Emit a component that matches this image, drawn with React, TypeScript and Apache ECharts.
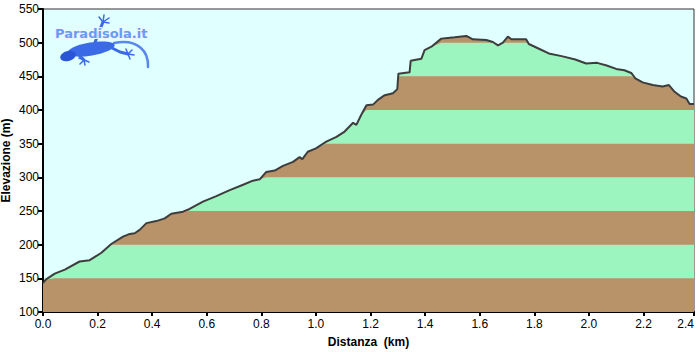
import React, { useEffect, useRef } from "react";
import * as echarts from "echarts";

// distance (km) and elevation (m)
const distanceKm = [
  0, 0.01, 0.043, 0.08, 0.134, 0.171, 0.214, 0.25, 0.293, 0.318, 0.336, 0.354, 0.379, 0.415, 0.446, 0.47,
  0.513, 0.537, 0.586, 0.635, 0.684, 0.733, 0.769, 0.794, 0.818, 0.849, 0.879, 0.916, 0.94, 0.95, 0.97,
  1.0, 1.038, 1.075, 1.105, 1.136, 1.148, 1.166, 1.185, 1.209, 1.227, 1.252, 1.282, 1.298, 1.302, 1.343,
  1.347, 1.386, 1.398, 1.423, 1.459, 1.483, 1.508, 1.551, 1.575, 1.624, 1.648, 1.667, 1.685, 1.703, 1.716,
  1.746, 1.77, 1.78, 1.817, 1.853, 1.9, 1.95, 1.99, 2.03, 2.065, 2.1, 2.13, 2.155, 2.17, 2.197, 2.234,
  2.27, 2.293, 2.314, 2.337, 2.357, 2.369, 2.385,
];
const elevationM = [
  143, 148, 157, 163, 175, 177, 188, 201, 212, 216, 217, 222, 232, 235, 239, 246,
  249, 253, 264, 272, 281, 289, 295, 297, 308, 310, 317, 323, 330, 327, 338,
  343, 353, 360, 368, 381, 378, 393, 407, 408, 415, 422, 425, 431, 454, 456,
  473, 476, 489, 494, 506, 507, 508, 510, 505, 504, 501, 496, 500, 509, 505,
  505, 505, 498, 491, 484, 480, 475, 469, 470, 466, 461, 459, 455, 447, 441, 437,
  435, 437, 427, 420, 417, 409, 409,
];
// elevation bands (upper bound of each 50 m band)
const bandTops = [150, 200, 250, 300, 350, 400, 450, 500, 550];
const yTicks = [100, 150, 200, 250, 300, 350, 400, 450, 500, 550];

const BROWN = "#b8936a";
const GREEN = "#9cf4be";
const LIZARD = "#3a6ae6";
const LIZARD_DARK = "#2a55d6";

export default function App() {
  const ref = useRef<HTMLDivElement>(null);
  useEffect(() => {
    if (!ref.current) return;
    const chart = echarts.init(ref.current, undefined, { renderer: "svg" });

    // each band fills from the axis bottom up to min(elevation, band top);
    // lower bands sit on top, so each band shows only between its bounds
    const bandSeries = bandTops.map((hi, k) => ({
      type: "line",
      data: distanceKm.map((d, i) => [d, Math.min(elevationM[i], hi)]),
      symbol: "none",
      lineStyle: { width: 0 },
      areaStyle: { color: k % 2 === 0 ? BROWN : GREEN, opacity: 1, origin: "start" },
      z: 12 - k,
      silent: true,
    }));

    const font = "'Liberation Sans', Arial, sans-serif";
    const leg = (points: number[][]) => ({
      type: "polyline",
      shape: { points },
      style: { stroke: LIZARD, lineWidth: 3, fill: null, lineCap: "round", lineJoin: "round" },
    });
    const toe = (x1: number, y1: number, x2: number, y2: number) => ({
      type: "line",
      shape: { x1, y1, x2, y2 },
      style: { stroke: LIZARD, lineWidth: 1.5, lineCap: "round" },
    });
    chart.setOption({
      animation: false,
      backgroundColor: "#ffffff",
      grid: {
        left: 43,
        right: 6,
        top: 9,
        bottom: 40,
        outerBoundsMode: "none",
        containLabel: false,
        show: true,
        backgroundColor: "#e0ffff",
        borderColor: "#333333",
        borderWidth: 1,
      },
      xAxis: {
        type: "value",
        min: 0,
        max: distanceKm[distanceKm.length - 1],
        interval: 0.2,
        name: "Distanza  (km)",
        nameLocation: "middle",
        nameGap: 24,
        nameMoveOverlap: false,
        nameTextStyle: { fontFamily: font, fontWeight: "bold", fontSize: 12, color: "#000" },
        axisLine: { lineStyle: { color: "#000", width: 2 } },
        axisTick: { show: true, length: 4, lineStyle: { color: "#000", width: 2 } },
        axisLabel: {
          fontFamily: font,
          fontSize: 12,
          color: "#000",
          margin: 6,
          alignMaxLabel: "right",
          formatter: (v: number) => v.toFixed(1),
        },
        splitLine: { show: false },
      },
      yAxis: {
        type: "value",
        min: yTicks[0],
        max: yTicks[yTicks.length - 1],
        interval: 50,
        name: "Elevazione (m)",
        nameLocation: "middle",
        nameGap: 31,
        nameMoveOverlap: false,
        nameTextStyle: { fontFamily: font, fontWeight: "bold", fontSize: 12, color: "#000" },
        axisLine: { show: true, lineStyle: { color: "#000", width: 2 } },
        axisTick: { show: true, length: 5, lineStyle: { color: "#000", width: 2 } },
        axisLabel: { fontFamily: font, fontSize: 12, color: "#000", margin: 4 },
        splitLine: { show: false },
      },
      series: [
        ...bandSeries,
        {
          type: "line",
          data: distanceKm.map((d, i) => [d, elevationM[i]]),
          symbol: "none",
          lineStyle: { color: "#3d3d3d", width: 2 },
          z: 20,
          silent: true,
        },
      ],
      graphic: [
        {
          type: "group",
          z: 100,
          children: [
            // tail
            {
              type: "bezierCurve",
              shape: { x1: 114, y1: 43, x2: 148, y2: 67, cpx1: 138, cpy1: 38, cpx2: 149, cpy2: 52 },
              style: { stroke: "#5a86ee", lineWidth: 2.5, fill: null, lineCap: "round" },
            },
            // legs
            leg([[94, 45], [99, 32], [103, 22]]),
            leg([[78, 54], [82, 58], [84, 60]]),
            leg([[110, 47], [120, 52], [128, 54]]),
            // toes
            toe(103, 22, 99, 17), toe(103, 22, 104, 15), toe(103, 22, 109, 18), toe(103, 22, 109, 23),
            toe(84, 60, 79, 58), toe(84, 60, 80, 64), toe(84, 60, 85, 65), toe(84, 60, 89, 62),
            toe(128, 54, 126, 49), toe(128, 54, 132, 50), toe(128, 54, 134, 55), toe(128, 54, 130, 59),
            // body
            {
              type: "ellipse",
              x: 91,
              y: 49,
              rotation: 0.17,
              shape: { cx: 0, cy: 0, rx: 24, ry: 6.5 },
              style: { fill: LIZARD },
            },
            // head
            {
              type: "ellipse",
              x: 68,
              y: 56,
              rotation: 0.3,
              shape: { cx: 0, cy: 0, rx: 8, ry: 5 },
              style: { fill: LIZARD_DARK },
            },
            {
              type: "text",
              x: 55,
              y: 27,
              style: {
                text: "Paradisola.it",
                fontFamily: "Verdana, 'DejaVu Sans', sans-serif",
                fontSize: 13,
                fontWeight: "bold",
                fill: "#6b9af5",
                stroke: "#eef4ff",
                lineWidth: 2,
              },
            },
          ],
        },
      ],
    });
    return () => chart.dispose();
  }, []);
  return (
    <div
      ref={ref}
      style={{ position: "fixed", left: 0, top: 0, width: 700, height: 352, background: "#fff" }}
    />
  );
}
